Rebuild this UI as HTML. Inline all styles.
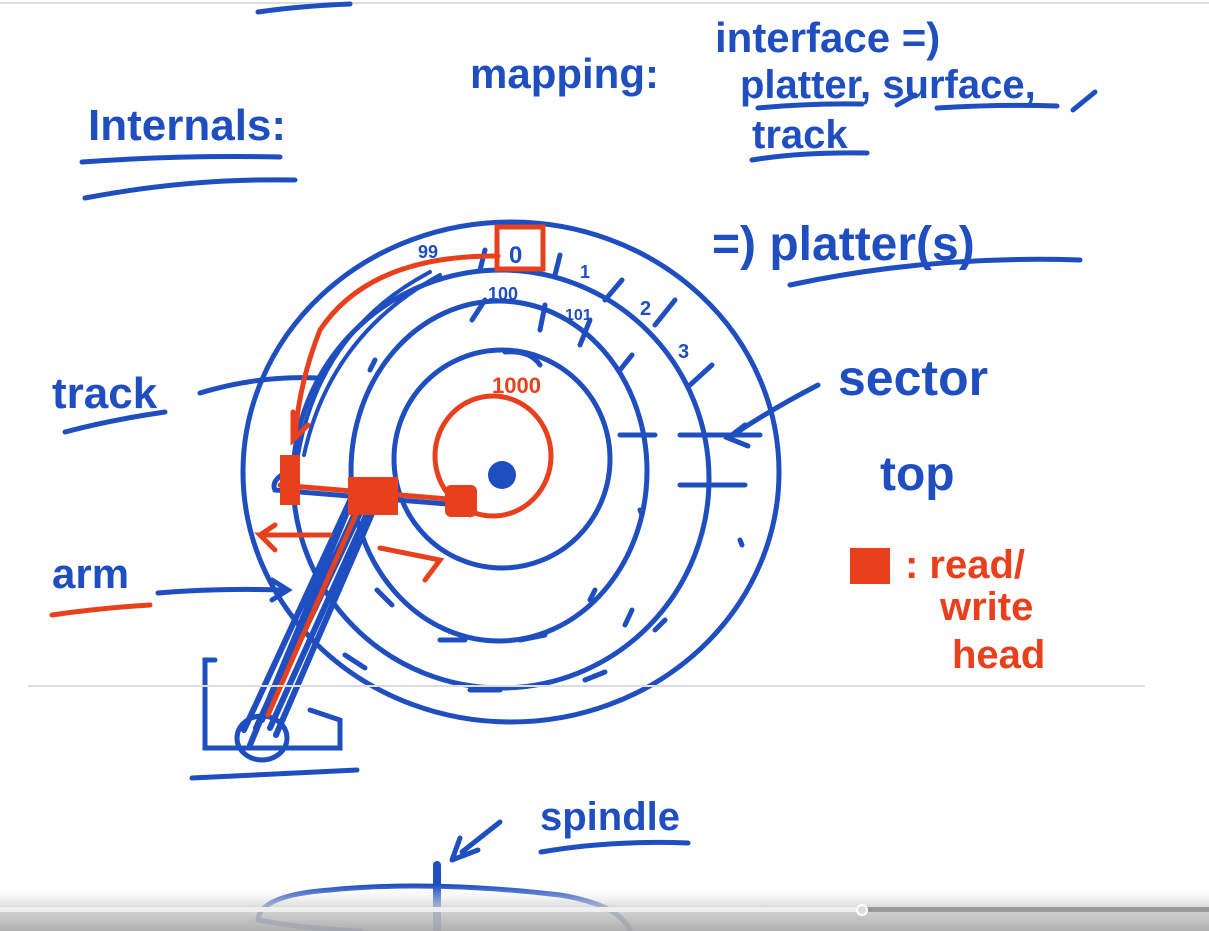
<!DOCTYPE html>
<html><head><style>
html,body{margin:0;padding:0;background:#fff;}
svg{display:block}
text{font-family:"Liberation Sans",sans-serif;font-weight:bold;}
</style></head><body>
<svg width="1209" height="931" viewBox="0 0 1209 931" xmlns="http://www.w3.org/2000/svg">
<defs>
<linearGradient id="g" x1="0" y1="0" x2="0" y2="1">
<stop offset="0" stop-color="#fff" stop-opacity="0"/>
<stop offset="0.5" stop-color="#ccc" stop-opacity="0.8"/>
<stop offset="1" stop-color="#aaa" stop-opacity="0.95"/>
</linearGradient>
</defs>
<rect width="1209" height="931" fill="#fff"/>
<line x1="0" y1="3" x2="1209" y2="3" stroke="#ddd" stroke-width="2"/>
<g fill="none" stroke="#1f4ec0" stroke-width="5" stroke-linecap="round">
<path d="M258 12 Q300 6 350 4"/>
<path d="M82 162 Q180 155 280 157"/>
<path d="M85 198 Q190 178 295 180"/>
<path d="M758 108 Q810 103 862 104"/>
<path d="M937 108 Q1000 104 1057 106"/>
<path d="M752 160 Q800 152 867 153"/>
<path d="M790 285 Q930 255 1080 260"/>
<path d="M897 105 L915 95"/><path d="M1073 110 L1095 92"/>
<path d="M65 432 Q110 420 165 412"/>
<ellipse cx="511" cy="472" rx="268" ry="250"/>
<ellipse cx="501" cy="479" rx="208" ry="209"/>
<ellipse cx="499" cy="471" rx="148" ry="170"/>
<ellipse cx="502" cy="459" rx="108" ry="109"/>
<path d="M200 393 Q260 375 318 378"/>
<path d="M158 593 Q220 588 282 590"/><path d="M272 580 L288 590 L272 600"/>
<path d="M818 385 Q770 410 733 435"/><path d="M745 425 L728 438 L748 446"/>
<path d="M462 852 L500 822"/><path d="M452 860 L478 850 M452 860 L460 838"/>
<path d="M541 852 Q610 840 688 843"/>
<path d="M215 660 L205 660 L205 748 L340 748 L340 720 L310 710"/>
<path d="M192 778 L357 770"/>
<ellipse cx="262" cy="738" rx="25" ry="22"/>
<path d="M244 730 L355 490 M262 720 L370 492 M276 735 L380 495 M250 745 L350 505 M256 728 L362 498 M270 728 L374 498" stroke-width="6"/>
<path d="M298 455 Q320 330 430 272 M304 455 Q330 335 440 275" stroke-width="4"/>
<path d="M290 470 Q270 480 275 490 L460 505 L470 515"/>
<path d="M620 435 L655 435 M680 435 L760 435 M680 485 L745 485"/>
<path d="M480 270 L485 250 M555 275 L560 255 M605 300 L622 280 M655 325 L675 300 M620 370 L632 355 M690 385 L712 365"/>
<path d="M472 320 L485 300 M540 330 L545 305 M580 345 L590 320"/>
<path d="M370 370 L375 360 M640 510 L642 515 M740 540 L742 545 M590 600 L595 590 M625 625 L632 610 M655 630 L665 620 M377 590 L392 605 M440 640 L465 640 M520 640 L545 635 M345 655 L365 668 M470 690 L500 690 M585 680 L605 672"/>
<path d="M505 352 Q530 350 540 365"/>
<path d="M258 920 Q260 895 330 890 Q430 880 560 895 Q620 905 630 931"/>
<path d="M258 920 Q300 928 360 931"/>
<path d="M437 865 L437 931" stroke-width="8"/>
</g>
<circle cx="502" cy="475" r="14" fill="#1f4ec0"/>
<g fill="none" stroke="#e8401c" stroke-width="5" stroke-linecap="round">
<ellipse cx="493" cy="456" rx="58" ry="60"/>
<rect x="497" y="227" width="46" height="42"/>
<path d="M498 256 Q370 255 320 330 Q300 380 295 435"/>
<path d="M293 412 L293 440 L308 425"/>
<path d="M280 485 L460 500"/>
<path d="M330 535 L260 535 L275 550 M260 535 L275 525"/>
<path d="M380 548 L440 560 L425 580"/>
<path d="M268 715 L360 505"/>
</g>
<rect x="348" y="477" width="50" height="38" fill="#e8401c"/>
<rect x="445" y="485" width="32" height="32" rx="6" fill="#e8401c"/>
<rect x="280" y="455" width="20" height="50" fill="#e8401c"/>
<rect x="850" y="548" width="40" height="36" fill="#e8401c"/>
<g fill="#1f4ec0">
<text x="88" y="140" font-size="44">Internals:</text>
<text x="470" y="88" font-size="42">mapping:</text>
<text x="715" y="52" font-size="42">interface =)</text>
<text x="740" y="98" font-size="40">platter, surface,</text>
<text x="752" y="148" font-size="40">track</text>
<text x="712" y="260" font-size="48">=) platter(s)</text>
<text x="52" y="408" font-size="44">track</text>
<text x="52" y="588" font-size="42">arm</text>
<text x="838" y="395" font-size="50">sector</text>
<text x="880" y="490" font-size="48">top</text>
<text x="540" y="830" font-size="40">spindle</text>
<text x="418" y="258" font-size="18">99</text>
<text x="509" y="263" font-size="24">0</text>
<text x="580" y="278" font-size="18">1</text>
<text x="488" y="300" font-size="18">100</text>
<text x="565" y="320" font-size="16">101</text>
<text x="640" y="315" font-size="20">2</text>
<text x="678" y="358" font-size="20">3</text>
</g>
<g fill="#e8401c">
<text x="492" y="393" font-size="22">1000</text>
<text x="905" y="578" font-size="40">: read/</text>
<text x="940" y="620" font-size="40">write</text>
<text x="952" y="668" font-size="40">head</text>
</g>
<path d="M52 615 Q100 608 150 605" fill="none" stroke="#e8401c" stroke-width="5" stroke-linecap="round"/>
<line x1="28" y1="686" x2="1145" y2="686" stroke="#ddd" stroke-width="2"/>
<rect x="0" y="885" width="1209" height="46" fill="url(#g)"/>
<rect x="0" y="907" width="862" height="5" fill="#eee"/>
<rect x="862" y="907" width="347" height="5" fill="#999"/>
<circle cx="862" cy="910" r="5" fill="#ddd" stroke="#fff" stroke-width="2"/>
</svg>
</body></html>
